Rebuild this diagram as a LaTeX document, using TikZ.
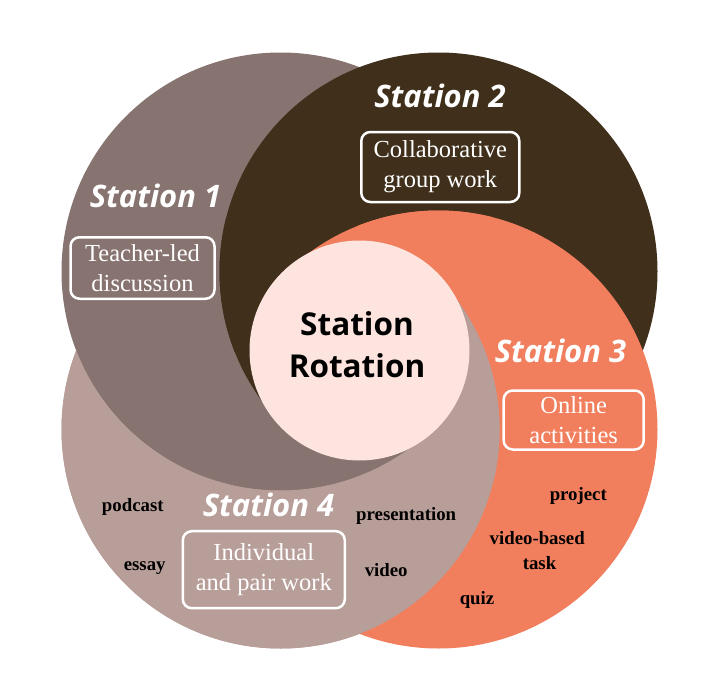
\documentclass[tikz,border=0pt]{standalone}
\usepackage{fontspec}
\setmainfont{Liberation Serif}
\newfontfamily\opensans{Open Sans}
\definecolor{sone}{RGB}{135,115,112}
\definecolor{stwo}{RGB}{63,47,27}
\definecolor{sthree}{RGB}{241,126,93}
\definecolor{sfour}{RGB}{184,158,153}
\definecolor{hubfill}{RGB}{253,228,222}
\begin{document}
\begin{tikzpicture}[x=1pt,y=-1pt,
  stationlabel/.style={anchor=base, inner sep=0pt, text=white,
    font=\opensans\bfseries\itshape\fontsize{31}{31}\selectfont},
  taskbox/.style={draw=white, line width=2.5pt, rounded corners=9pt, text=white,
    align=center, inner sep=0pt, font=\fontsize{24.5}{30}\selectfont},
  example/.style={anchor=base, inner sep=0pt, text=black,
    font=\bfseries\fontsize{18.8}{18.8}\selectfont},
  hubtext/.style={inner sep=0pt, align=center, text=black,
    font=\opensans\bfseries\fontsize{31.5}{42}\selectfont}]
\useasboundingbox (0,0) rectangle (723,688);
\fill[white] (0,0) rectangle (723,688);
\coordinate (C) at (359.5,350.5);
\coordinate (k1) at (280.5,271.5);
\coordinate (k2) at (438.5,271.5);
\coordinate (k3) at (438.5,429.5);
\coordinate (k4) at (280.5,429.5);
% underlay
\fill[sfour] (k4) circle[radius=219];
% Station 1 region: circle 1 outside circle 2, plus bottom wedge
\begin{scope}
  \clip (k1) circle[radius=219];
  \fill[sone, even odd rule] (-50,-50) rectangle (800,750) (k2) circle[radius=218];
\end{scope}
\begin{scope}
  \clip (C) -- ++(900,900) -- ++(-1800,0) -- cycle;
  \fill[sone] (k1) circle[radius=219];
\end{scope}
% Station 2 region: circle 2 outside circle 3, plus left wedge
\begin{scope}
  \clip (k2) circle[radius=219];
  \fill[stwo, even odd rule] (-50,-50) rectangle (800,750) (k3) circle[radius=218];
\end{scope}
\begin{scope}
  \clip (C) -- ++(-900,-900) -- ++(0,1800) -- cycle;
  \fill[stwo] (k2) circle[radius=219];
\end{scope}
% Station 3 region: circle 3 outside circle 4, plus top wedge
\begin{scope}
  \clip (k3) circle[radius=219];
  \fill[sthree, even odd rule] (-50,-50) rectangle (800,750) (k4) circle[radius=218];
\end{scope}
\begin{scope}
  \clip (C) -- ++(-900,-900) -- ++(1800,0) -- cycle;
  \fill[sthree] (k3) circle[radius=219];
\end{scope}
% Station 4 region: circle 4 outside circle 1, plus right wedge
\begin{scope}
  \clip (k4) circle[radius=219];
  \fill[sfour, even odd rule] (-50,-50) rectangle (800,750) (k1) circle[radius=219];
\end{scope}
\begin{scope}
  \clip (C) -- ++(900,-900) -- ++(0,1800) -- cycle;
  \fill[sfour] (k4) circle[radius=219];
\end{scope}
% hub
\node[circle, fill=hubfill, minimum size=220pt, inner sep=0pt] (hub) at (C) {};
\node[hubtext] (rot) at (357,345) {Station\\Rotation};
% station titles
\node[stationlabel] (l1) at (155.5,207) {Station 1};
\node[stationlabel] (l2) at (440,107) {Station 2};
\node[stationlabel] (l3) at (560.5,362) {Station 3};
\node[stationlabel] (l4) at (268.5,516) {Station 4};
% boxes
\node[taskbox, minimum width=144pt, minimum height=61.5pt] (t1) at (142.5,268) {Teacher-led\\discussion};
\node[taskbox, minimum width=158pt, minimum height=70pt] (t2) at (440.3,167) {Collaborative\\group work};
\node[taskbox, minimum width=140pt, minimum height=59pt] (t3) at (573.7,420) {Online\\activities};
\node[taskbox, minimum width=162pt, minimum height=77pt] (t4) at (263.8,569.7) {Individual\\and pair work};
% examples
\node[example] (e1) at (132.8,511.7) {podcast};
\node[example] (e2) at (144.7,570) {essay};
\node[example] (e3) at (406.2,520.7) {presentation};
\node[example] (e4) at (386.2,576) {video};
\node[example] (e5) at (578.3,500.7) {project};
\node[example] (e6) at (537.2,544.3) {video-based};
\node[example] (e7) at (539.5,569.3) {task};
\node[example] (e8) at (477,604) {quiz};
\end{tikzpicture}
\end{document}
